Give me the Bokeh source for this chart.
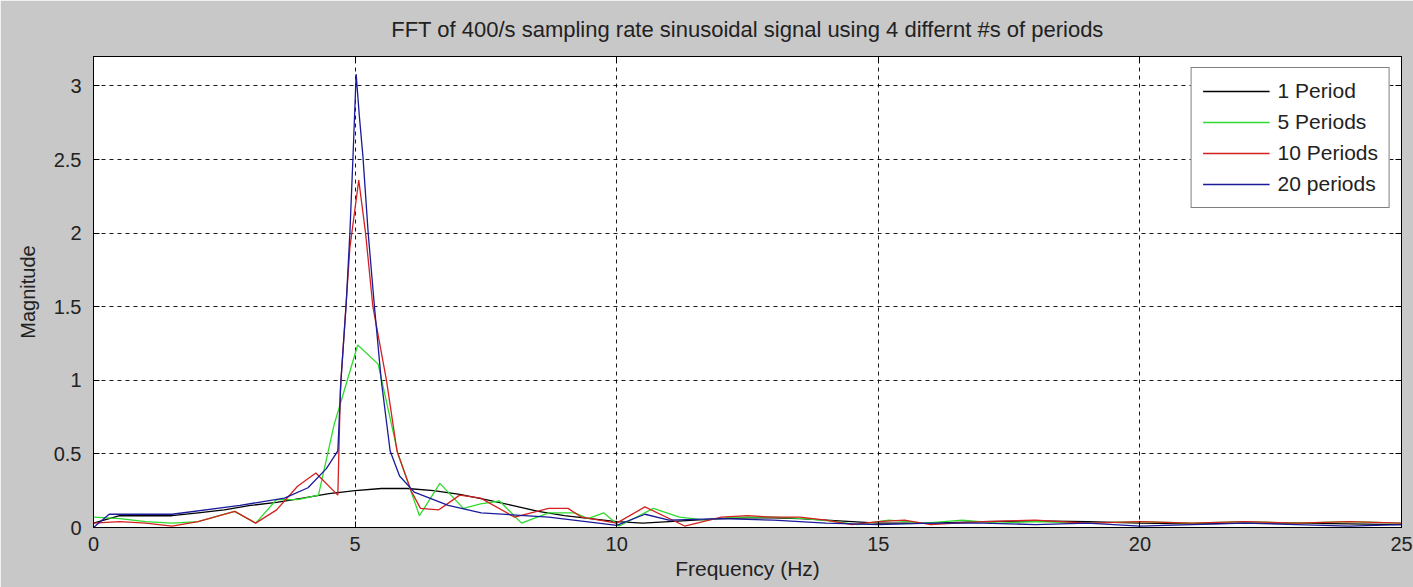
from bokeh.plotting import figure
from bokeh.models import Range1d, LinearAxis, FixedTicker, Legend, LegendItem, CustomLabelingPolicy
from bokeh.embed import file_html
from bokeh.resources import INLINE

title_text = "FFT of 400/s sampling rate sinusoidal signal using 4 differnt #s of periods"
x_ticks = [0, 5, 10, 15, 20, 25]
y_ticks = [0, 0.5, 1, 1.5, 2, 2.5, 3]

# 1 Period
f1 = [0, 0.5, 1, 1.5, 2, 2.5, 3, 3.5, 4, 4.5, 5, 5.5, 6, 6.5, 7, 7.5, 8, 8.5, 9, 9.5,
      10, 10.5, 11, 11.5, 12, 12.5, 13, 13.5, 14, 14.5, 15, 16, 17, 18, 19, 20, 21, 22, 23, 24, 25]
m1 = [0.03, 0.08, 0.08, 0.08, 0.10, 0.12, 0.15, 0.17, 0.20, 0.23, 0.25, 0.265, 0.265, 0.25, 0.225,
      0.19, 0.15, 0.11, 0.08, 0.06, 0.04, 0.03, 0.04, 0.05, 0.06, 0.065, 0.065, 0.06, 0.05, 0.04,
      0.03, 0.03, 0.04, 0.045, 0.04, 0.03, 0.025, 0.03, 0.03, 0.025, 0.02]

# 5 Periods
f5 = [0, 0.5, 1, 1.5, 2, 2.4, 2.7, 3.1, 3.5, 3.9, 4.3, 4.6, 5.05, 5.44, 5.82, 6.23, 6.62,
      7.07, 7.4, 7.76, 8.18, 8.7, 9.2, 9.45, 9.75, 10.05, 10.7, 11.2, 11.7, 12.2, 13, 13.6,
      14.2, 14.6, 15.2, 15.9, 16.6, 17.3, 18, 19, 20, 21, 22, 23, 24, 25]
m5 = [0.07, 0.06, 0.04, 0.03, 0.04, 0.08, 0.11, 0.03, 0.19, 0.19, 0.22, 0.70, 1.24, 1.11, 0.50,
      0.08, 0.30, 0.13, 0.16, 0.18, 0.03, 0.10, 0.10, 0.06, 0.10, 0.01, 0.13, 0.07, 0.05, 0.07,
      0.07, 0.06, 0.04, 0.02, 0.05, 0.03, 0.05, 0.03, 0.04, 0.03, 0.04, 0.03, 0.04, 0.03, 0.04, 0.03]

# 10 Periods
f10 = [0, 0.5, 1, 1.5, 2, 2.7, 3.1, 3.5, 3.9, 4.25, 4.67, 4.72, 4.9, 5.07, 5.2, 5.34, 5.6, 5.8,
       6.07, 6.25, 6.6, 7.0, 7.4, 8.05, 8.7, 9.07, 9.33, 10, 10.54, 11.3, 12, 12.5, 13, 13.5,
       14, 14.5, 15, 15.5, 16, 17, 18, 19, 20, 21, 22, 23, 24, 25]
m10 = [0.03, 0.04, 0.03, 0.01, 0.04, 0.11, 0.03, 0.12, 0.28, 0.37, 0.22, 0.95, 1.90, 2.36, 2.00,
       1.50, 1.00, 0.52, 0.25, 0.13, 0.12, 0.22, 0.20, 0.07, 0.13, 0.13, 0.07, 0.03, 0.14, 0.01,
       0.07, 0.08, 0.07, 0.07, 0.05, 0.02, 0.04, 0.05, 0.02, 0.04, 0.05, 0.03, 0.04, 0.03, 0.04,
       0.03, 0.04, 0.03]

# 20 periods
f20 = [0, 0.3, 1.5, 2.8, 3.65, 4.1, 4.45, 4.67, 4.73, 4.83, 4.9, 4.96, 5.02, 5.08, 5.15, 5.25,
       5.37, 5.5, 5.67, 5.85, 6.13, 6.78, 7.41, 8.7, 9.65, 10, 10.54, 11, 12, 13, 14, 15, 16, 17,
       18, 19, 20, 21, 22, 23, 24, 25]
m20 = [0.0, 0.09, 0.09, 0.15, 0.20, 0.27, 0.40, 0.52, 1.00, 1.52, 2.00, 2.52, 3.08, 2.80, 2.52,
       2.00, 1.50, 1.00, 0.52, 0.35, 0.24, 0.15, 0.10, 0.07, 0.03, 0.015, 0.09, 0.05, 0.06, 0.05,
       0.03, 0.02, 0.03, 0.03, 0.02, 0.03, 0.01, 0.02, 0.03, 0.02, 0.01, 0.02]

series_names = ["1 Period", "5 Periods", "10 Periods", "20 periods"]
series_colors = ["#000000", "#2edc2e", "#d42020", "#1a1a9a"]

FONT = "Liberation Sans"
BG = "#c8c8c8"
TXT = "#222222"

p = figure(frame_width=1308, frame_height=471, output_backend="svg", toolbar_location=None,
           x_range=Range1d(0, 25), y_range=Range1d(0, 3.2),
           min_border_left=93, min_border_right=12, min_border_top=56, min_border_bottom=60,
           background_fill_color="white", border_fill_color=BG,
           x_axis_label="Frequency (Hz)", y_axis_label="Magnitude")

p.title.text = title_text
p.title.align = "center"
p.title.text_font = FONT
p.title.text_font_size = "22px"
p.title.text_font_style = "normal"
p.title.text_color = TXT
p.title.standoff = 8

p.outline_line_color = "black"
p.outline_line_width = 1

for ax in [p.xaxis[0], p.yaxis[0]]:
    ax.major_tick_in = 6
    ax.major_tick_out = 0
    ax.minor_tick_in = 0
    ax.minor_tick_out = 0
    ax.axis_line_color = "black"
    ax.major_tick_line_color = "black"
    ax.major_label_text_font = FONT
    ax.major_label_text_font_size = "20px"
    ax.major_label_text_color = TXT
    ax.axis_label_text_font = FONT
    ax.axis_label_text_font_style = "normal"
    ax.axis_label_text_color = TXT

p.xaxis[0].axis_label_text_font_size = "21px"
p.yaxis[0].axis_label_text_font_size = "20px"
p.xaxis[0].ticker = FixedTicker(ticks=x_ticks)
p.yaxis[0].ticker = FixedTicker(ticks=y_ticks)
p.xaxis[0].major_label_standoff = 9
p.xaxis[0].axis_label_standoff = 3
p.yaxis[0].major_label_standoff = 12
p.yaxis[0].axis_label_standoff = 12

hide_all = CustomLabelingPolicy(code="""
for (const i of indices) { indices.unset(i) }
return indices
""")

# Mirror axes (ticks only) on top and right, as in MATLAB box
top_ax = LinearAxis(ticker=FixedTicker(ticks=x_ticks), major_tick_in=6, major_tick_out=0,
                    minor_tick_in=0, minor_tick_out=0, major_label_policy=hide_all,
                    major_label_standoff=0, axis_line_color="black")
right_ax = LinearAxis(ticker=FixedTicker(ticks=y_ticks), major_tick_in=6,
                      major_tick_out=0, minor_tick_in=0, minor_tick_out=0,
                      major_label_policy=hide_all, major_label_standoff=0,
                      axis_line_color="black")
p.add_layout(top_ax, "above")
p.add_layout(right_ax, "right")

p.xgrid.ticker = FixedTicker(ticks=x_ticks)
p.ygrid.ticker = FixedTicker(ticks=y_ticks)
for g in [p.xgrid[0], p.ygrid[0]]:
    g.grid_line_color = "black"
    g.grid_line_dash = "4 4"
    g.grid_line_width = 1
    g.grid_line_alpha = 0.9

data = [(f1, m1), (f5, m5), (f10, m10), (f20, m20)]
items = []
for (fx, my), name, col in zip(data, series_names, series_colors):
    r = p.line(fx, my, line_color=col, line_width=1.3)
    items.append(LegendItem(label=name, renderers=[r]))

legend = Legend(items=items, location="top_right", margin=11,
                label_text_font=FONT, label_text_font_size="21px", label_text_color=TXT,
                glyph_width=67, glyph_height=24, label_height=24, spacing=7, padding=11,
                label_standoff=8,
                border_line_color="black", border_line_width=1, background_fill_alpha=1)
p.add_layout(legend)

open("out.html", "w").write(file_html(p, INLINE))
